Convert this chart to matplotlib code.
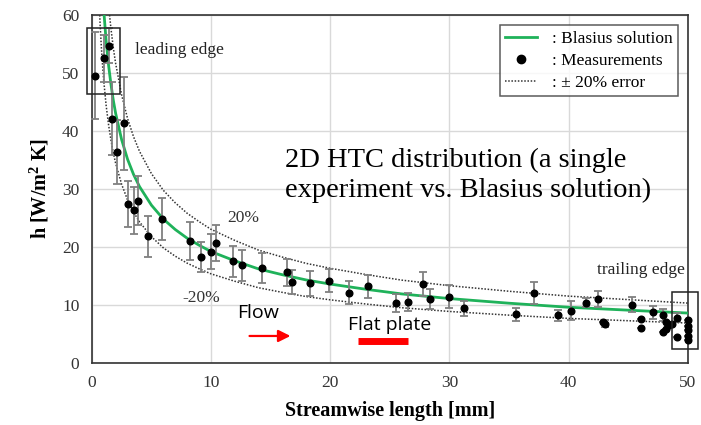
import numpy as np
import matplotlib.pyplot as plt
from matplotlib.lines import Line2D

# Blasius solution
blasius_x = [0.6, 0.7, 0.8, 0.9, 1.0, 1.2, 1.4, 1.6, 1.8, 2.0, 2.5, 3.0, 3.5, 4.0,
             5.0, 6.0, 7.0, 8.0, 9.0, 10.0, 12.0, 14.0, 16.0, 18.0, 20.0, 23.0,
             26.0, 30.0, 35.0, 40.0, 45.0, 50.0]
blasius_h = [78.5, 72.7, 68.0, 64.1, 60.8, 55.5, 51.4, 48.1, 45.3, 43.0, 38.5, 35.1,
             32.5, 30.4, 27.2, 24.8, 23.0, 21.5, 20.3, 19.2, 17.6, 16.2, 15.2, 14.3,
             13.6, 12.7, 11.9, 11.1, 10.3, 9.6, 9.1, 8.6]
err_band = 0.20

# measurements (x [mm], h, error half-width)
meas_x = [0.3, 1.0, 1.4, 1.7, 2.1, 2.7, 3.0, 3.5, 3.9, 4.7, 5.85, 8.2, 9.2, 10.0,
          10.45, 11.85, 12.6, 14.3, 16.4, 16.8, 18.3, 19.9, 21.6, 23.2, 25.5, 26.5,
          27.8, 28.4, 30.0, 31.2, 35.6, 37.1, 39.1, 40.2, 41.5, 42.5, 42.9, 43.1,
          45.3, 46.1, 46.1, 47.1, 47.9, 47.9, 48.2, 48.2, 48.4, 48.7, 49.1, 49.1,
          50.0, 50.0, 50.0, 50.0, 50.0]
meas_h = [49.5, 52.5, 54.7, 42.1, 36.4, 41.3, 27.4, 26.3, 28.0, 21.8, 24.8, 21.0,
          18.2, 19.2, 20.6, 17.5, 16.8, 16.4, 15.6, 14.0, 13.7, 14.2, 12.1, 13.2,
          10.3, 10.5, 13.6, 11.0, 11.4, 9.4, 8.4, 12.1, 8.2, 9.0, 10.4, 11.0, 7.0,
          6.8, 10.0, 7.5, 6.0, 8.7, 8.3, 5.4, 7.1, 5.8, 6.6, 6.8, 7.8, 4.4,
          7.4, 6.4, 5.6, 4.7, 4.0]
meas_err = [7.5, 4.0, 3.0, 6.3, 5.5, 8.0, 4.0, 4.0, 4.3, 3.5, 3.6, 3.3,
            2.6, 3.0, 3.1, 2.7, 2.7, 2.6, 2.3, 2.1, 2.2, 2.0, 2.0, 2.0,
            1.6, 1.6, 2.1, 1.7, 2.0, 1.3, 1.1, 1.9, 0.9, 1.6, 0.8, 1.4, 0,
            0.6, 1.3, 0, 0, 1.1, 1.0, 0, 0, 0, 0, 0, 0.8, 0,
            0, 0, 0, 0, 0]

plt.rcParams['font.family'] = ['Liberation Serif', 'DejaVu Serif']

fig = plt.figure(figsize=(7.01, 4.25), dpi=100)
ax = fig.add_axes([0.131, 0.146, 0.85, 0.819])

bx = np.array(blasius_x)
bh = np.array(blasius_h)
green = '#1fb25a'
dots = (0, (1, 1.1))
ax.plot(bx, bh, color=green, lw=2, zorder=3)
ax.plot(bx, bh * (1 + err_band), color='#333333', ls=dots, lw=1.1, zorder=2)
ax.plot(bx, bh * (1 - err_band), color='#333333', ls=dots, lw=1.1, zorder=2)

ax.errorbar(meas_x, meas_h, yerr=meas_err, fmt='none', ecolor='#808080',
            elinewidth=1.3, capsize=3, capthick=1.3, zorder=4, clip_on=False)
ax.plot(meas_x, meas_h, 'o', color='black', ms=4.8, zorder=5, clip_on=False)

ax.set_xlim(0, 50)
ax.set_ylim(0, 60)
ax.set_xticks(range(0, 51, 10))
ax.set_yticks(range(0, 61, 10))
ax.tick_params(length=0, labelsize=12.5, colors='#333333', pad=9)
ax.grid(color='#d9d9d9', lw=1)
ax.set_axisbelow(True)
for s in ax.spines.values():
    s.set_color('#333333')
    s.set_linewidth(1.2)

ax.set_xlabel('Streamwise length [mm]', fontsize=14.5, fontweight='bold', labelpad=7)
ax.set_ylabel('h [W/m$^\\mathregular{2}$ K]', fontsize=14.5, fontweight='bold', labelpad=8)

# edge boxes
ax.add_patch(plt.Rectangle((-0.4, 46.3), 2.75, 11.4, fill=False, ec='#222222',
                           lw=1.1, clip_on=False, zorder=6))
ax.add_patch(plt.Rectangle((48.7, 2.4), 2.2, 9.8, fill=False, ec='#222222',
                           lw=1.1, clip_on=False, zorder=6))

ax.text(3.6, 54, 'leading edge', fontsize=12.5, color='#222222', va='center')
ax.text(49.8, 16.0, 'trailing edge', fontsize=12.5, color='#222222', va='center', ha='right')
ax.text(11.4, 25.0, '20%', fontsize=12.5, color='#333333', va='center')
ax.text(7.6, 11.2, '-20%', fontsize=12.5, color='#333333', va='center')
ax.text(16.2, 32.3, '2D HTC distribution (a single\nexperiment vs. Blasius solution)',
        fontsize=20.5, va='center', linespacing=1.25)

ax.text(12.2, 8.6, 'Flow', fontsize=14, family=['Open Sans', 'DejaVu Sans'], va='center')
ax.annotate('', xy=(16.9, 4.65), xytext=(13.0, 4.65),
            arrowprops=dict(arrowstyle='-|>', color='red', lw=1.6, mutation_scale=18))
ax.text(21.5, 6.5, 'Flat plate', fontsize=14, family=['Open Sans', 'DejaVu Sans'], va='center')
ax.plot([22.3, 26.5], [3.8, 3.8], color='red', lw=5, solid_capstyle='butt')

handles = [Line2D([], [], color=green, lw=2),
           Line2D([], [], color='black', marker='o', ls='none', ms=6),
           Line2D([], [], color='#333333', ls=dots, lw=1.1)]
labels = [': Blasius solution', ': Measurements', ': \u00b1 20% error']
leg = ax.legend(handles, labels, loc='upper right', bbox_to_anchor=(0.99, 0.98),
                fontsize=12.5, frameon=True, fancybox=False, handlelength=1.8,
                borderpad=0.3, labelspacing=0.35, handletextpad=0.9, borderaxespad=0.2)
leg.get_frame().set_edgecolor('#333333')
leg.get_frame().set_linewidth(1.1)

plt.savefig('out.png', dpi=100)
